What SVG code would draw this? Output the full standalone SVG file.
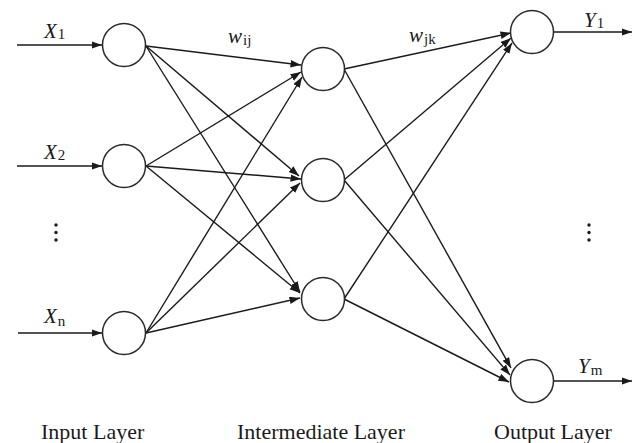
<svg xmlns="http://www.w3.org/2000/svg" width="637" height="443" viewBox="0 0 637 443">
<defs>
<marker id="ah" markerWidth="11" markerHeight="8" refX="10.5" refY="3.75" orient="auto" markerUnits="userSpaceOnUse">
<path d="M0,0 L10.5,3.75 L0,7.5 z" fill="#1a1a1a"/>
</marker>
<style>
.node{fill:#fff;stroke:#2a2a2a;stroke-width:1.5}
.edge{stroke:#1a1a1a;stroke-width:1.4;fill:none;marker-end:url(#ah)}
.var{font-family:"Liberation Serif","Times New Roman",serif;font-style:italic;font-size:21px;fill:#1a1a1a}
.sub{font-style:normal;font-size:15px}
.lbl{font-family:"Liberation Serif","Times New Roman",serif;font-size:22px;fill:#1a1a1a}
.dot{fill:#1a1a1a}
</style>
</defs>
<rect width="637" height="443" fill="#fff"/>
<g id="connectors">
<line class="edge" x1="17" y1="45" x2="102" y2="45"/>
<line class="edge" x1="17" y1="166" x2="102" y2="166"/>
<line class="edge" x1="18" y1="333" x2="102" y2="333"/>
<line class="edge" x1="146" y1="46" x2="301" y2="65"/>
<line class="edge" x1="146" y1="46" x2="299" y2="176"/>
<line class="edge" x1="146" y1="46" x2="300" y2="292"/>
<line class="edge" x1="146" y1="166" x2="301" y2="72"/>
<line class="edge" x1="146" y1="166" x2="301" y2="179"/>
<line class="edge" x1="146" y1="166" x2="300" y2="293"/>
<line class="edge" x1="146" y1="333" x2="302" y2="77"/>
<line class="edge" x1="146" y1="333" x2="300" y2="183"/>
<line class="edge" x1="146" y1="333" x2="300" y2="298"/>
<line class="edge" x1="344" y1="69" x2="511" y2="33"/>
<line class="edge" x1="344" y1="69" x2="511" y2="368"/>
<line class="edge" x1="344" y1="180" x2="511" y2="38"/>
<line class="edge" x1="344" y1="180" x2="510" y2="375"/>
<line class="edge" x1="344" y1="299" x2="512" y2="43"/>
<line class="edge" x1="344" y1="299" x2="509" y2="382"/>
<line class="edge" x1="554" y1="32" x2="632" y2="32"/>
<line class="edge" x1="554" y1="381" x2="632" y2="381"/>
</g>
<g id="in1"><circle class="node" cx="124" cy="45" r="21.5"/></g>
<g id="in2"><circle class="node" cx="124" cy="166" r="21.5"/></g>
<g id="inN"><circle class="node" cx="124" cy="333" r="21.5"/></g>
<g id="mid1"><circle class="node" cx="323" cy="69" r="21.5"/></g>
<g id="mid2"><circle class="node" cx="323" cy="180" r="21.5"/></g>
<g id="mid3"><circle class="node" cx="323" cy="299" r="21.5"/></g>
<g id="out1"><circle class="node" cx="532" cy="32" r="21.5"/></g>
<g id="outM"><circle class="node" cx="532" cy="381" r="21.5"/></g>
<g id="labels">
<text class="var" x="44" y="38">X<tspan class="sub" dx="1" dy="1">1</tspan></text>
<text class="var" x="44" y="159">X<tspan class="sub" dx="1" dy="1">2</tspan></text>
<text class="var" x="44" y="323">X<tspan class="sub" dx="1" dy="3">n</tspan></text>
<text class="var" x="228" y="43">w<tspan class="sub" dx="1" dy="2">ij</tspan></text>
<text class="var" x="409" y="42">w<tspan class="sub" dx="1" dy="2">jk</tspan></text>
<text class="var" x="584" y="27">Y<tspan class="sub" dx="1" dy="1">1</tspan></text>
<text class="var" x="578" y="373">Y<tspan class="sub" dx="1" dy="2">m</tspan></text>
<circle class="dot" cx="56" cy="225" r="1.7"/>
<circle class="dot" cx="56" cy="232.5" r="1.7"/>
<circle class="dot" cx="56" cy="240" r="1.7"/>
<circle class="dot" cx="589" cy="225" r="1.7"/>
<circle class="dot" cx="589" cy="232.5" r="1.7"/>
<circle class="dot" cx="589" cy="240" r="1.7"/>
<text class="lbl" x="41" y="439">Input Layer</text>
<text class="lbl" x="237" y="439">Intermediate Layer</text>
<text class="lbl" x="494" y="439">Output Layer</text>
</g>
</svg>
